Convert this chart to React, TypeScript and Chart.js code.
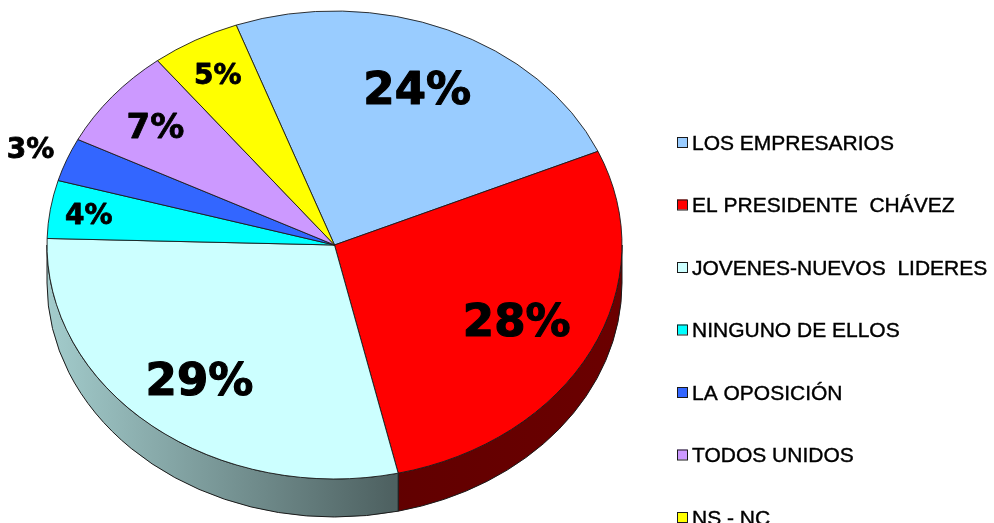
import React, { useEffect, useRef } from "react";
import { Chart, registerables } from "chart.js";

Chart.register(...registerables);

// ---- data ----
const categories = [
  "LOS EMPRESARIOS",
  "EL PRESIDENTE  CHÁVEZ",
  "JOVENES-NUEVOS  LIDERES",
  "NINGUNO DE ELLOS",
  "LA OPOSICIÓN",
  "TODOS UNIDOS",
  "NS - NC",
];
const percentages = [24, 28, 29, 4, 3, 7, 5];

// ---- styles ----
const sliceColors = ["#99CCFF", "#FF0000", "#CCFFFF", "#00FFFF", "#3366FF", "#CC99FF", "#FFFF00"];
const labelFontSizes = [45, 45, 45, 28, 28, 34, 28];
const labelRadialFractions = [0.73, 0.71, 0.74, 0.865, 1.136, 0.806, 0.837];
const DEPTH = 38;
const ROTATION = -20;
const LEGEND_X = 677;
const LEGEND_Y0 = 142;
const LEGEND_STEP = 62.5;
const LEGEND_BOX = 10;
const LEGEND_FONT = 21;

function shade(hex: string, f: number): string {
  const h = hex.replace("#", "");
  const r = parseInt(h.slice(0, 2), 16);
  const g = parseInt(h.slice(2, 4), 16);
  const b = parseInt(h.slice(4, 6), 16);
  return `rgb(${Math.round(r * f)},${Math.round(g * f)},${Math.round(b * f)})`;
}

const pie3d = {
  id: "pie3d",
  beforeDatasetsDraw(chart: any) {
    const ctx = chart.ctx as CanvasRenderingContext2D;
    const ca = chart.chartArea;
    const meta = chart.getDatasetMeta(0);
    const a = (ca.right - ca.left) / 2;
    const b = (ca.bottom - ca.top) / 2;
    const TWO = Math.PI * 2;
    meta.data.forEach((arc: any, i: number) => {
      let s = arc.startAngle;
      let e = arc.endAngle;
      const off = Math.floor(s / TWO) * TWO;
      s -= off;
      e -= off;
      const color = sliceColors[i];
      for (const base of [0, TWO]) {
        const lo = Math.max(s, base);
        const hi = Math.min(e, base + Math.PI);
        if (hi <= lo) continue;
        ctx.save();
        ctx.beginPath();
        ctx.ellipse(arc.x, arc.y, a, b, 0, lo, hi, false);
        ctx.ellipse(arc.x, arc.y + DEPTH, a, b, 0, hi, lo, true);
        ctx.closePath();
        const g = ctx.createLinearGradient(arc.x - a, 0, arc.x + a, 0);
        g.addColorStop(0, shade(color, 0.8));
        g.addColorStop(0.6, shade(color, 0.38));
        g.addColorStop(1, shade(color, 0.42));
        ctx.fillStyle = g;
        ctx.fill();
        ctx.strokeStyle = "#1a1a1a";
        ctx.lineWidth = 1;
        ctx.stroke();
        ctx.restore();
      }
    });
    const arc0 = meta.data[0];
    const sx = a / arc0.outerRadius;
    const sy = b / arc0.outerRadius;
    ctx.save();
    ctx.translate(arc0.x, arc0.y);
    ctx.scale(sx, sy);
    ctx.translate(-arc0.x, -arc0.y);
  },
  afterDatasetsDraw(chart: any) {
    const ctx = chart.ctx as CanvasRenderingContext2D;
    ctx.restore();
    const ca = chart.chartArea;
    const meta = chart.getDatasetMeta(0);
    const a = (ca.right - ca.left) / 2;
    const b = (ca.bottom - ca.top) / 2;
    ctx.save();
    ctx.fillStyle = "#000";
    ctx.strokeStyle = "#000";
    ctx.lineJoin = "round";
    ctx.textAlign = "center";
    ctx.textBaseline = "alphabetic";
    meta.data.forEach((arc: any, i: number) => {
      const mid = (arc.startAngle + arc.endAngle) / 2;
      const r = labelRadialFractions[i];
      const x = arc.x + a * r * Math.cos(mid);
      const y = arc.y + b * r * Math.sin(mid);
      const size = labelFontSizes[i];
      ctx.font = `bold ${size}px "DejaVu Sans"`;
      const ty = y + (0.729 * size) / 2;
      ctx.lineWidth = size > 40 ? 1.2 : 0.8;
      ctx.strokeText(`${percentages[i]}%`, x, ty);
      ctx.fillText(`${percentages[i]}%`, x, ty);
    });
    ctx.restore();
  },
  afterDraw(chart: any) {
    const ctx = chart.ctx as CanvasRenderingContext2D;
    ctx.save();
    ctx.font = `${LEGEND_FONT}px "Liberation Sans", Arial, sans-serif`;
    ctx.textAlign = "left";
    ctx.textBaseline = "alphabetic";
    (chart.data.labels as string[]).forEach((label, i) => {
      const y = LEGEND_Y0 + i * LEGEND_STEP;
      ctx.fillStyle = sliceColors[i];
      ctx.fillRect(LEGEND_X, y - LEGEND_BOX / 2, LEGEND_BOX, LEGEND_BOX);
      ctx.strokeStyle = "#1a1a1a";
      ctx.lineWidth = 1;
      ctx.strokeRect(LEGEND_X + 0.5, y - LEGEND_BOX / 2 + 0.5, LEGEND_BOX, LEGEND_BOX);
      ctx.fillStyle = "#000";
      ctx.strokeStyle = "#000";
      ctx.lineWidth = 0.4;
      const ty = y + (0.716 * LEGEND_FONT) / 2;
      ctx.strokeText(label, LEGEND_X + 15, ty);
      ctx.fillText(label, LEGEND_X + 15, ty);
    });
    ctx.restore();
  },
};

export default function App() {
  const ref = useRef<HTMLCanvasElement | null>(null);
  useEffect(() => {
    document.body.style.margin = "0";
    const canvas = ref.current;
    if (!canvas) return;
    const chart = new Chart(canvas, {
      type: "pie",
      data: {
        labels: categories,
        datasets: [
          {
            data: percentages,
            backgroundColor: sliceColors,
            borderColor: "#1a1a1a",
            borderWidth: 0.8,
            clip: false as any,
          },
        ],
      },
      options: {
        responsive: false,
        maintainAspectRatio: false,
        devicePixelRatio: 1,
        animation: false,
        events: [],
        rotation: ROTATION,
        layout: { padding: { left: 47, right: 372, top: 11, bottom: 44 } },
        plugins: {
          legend: { display: false },
          tooltip: { enabled: false },
          title: { display: false },
        },
      },
      plugins: [pie3d],
    });
    return () => chart.destroy();
  }, []);
  return (
    <div style={{ width: 994, height: 523, background: "#fff" }}>
      <canvas ref={ref} width={994} height={523} style={{ display: "block" }} />
    </div>
  );
}
